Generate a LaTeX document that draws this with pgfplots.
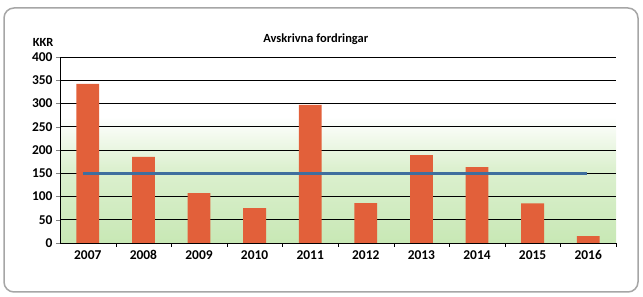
\documentclass[border=0pt]{standalone}
\usepackage{pgfplots}
\pgfplotsset{compat=1.18}
\usepackage{fontspec}
\setmainfont{Carlito}
\definecolor{barorange}{HTML}{E2603A}
\definecolor{avgblue}{HTML}{3F6E9E}
\definecolor{bggreen}{HTML}{C8E8B5}
\definecolor{bggreen2}{HTML}{DCF0CF}
\pgfdeclareverticalshading{bgshade}{100bp}{color(0bp)=(bggreen); color(25bp)=(bggreen); color(45bp)=(bggreen2); color(59bp)=(white); color(100bp)=(white)}
\begin{document}
\begin{tikzpicture}
\path[use as bounding box] (0bp,0bp) rectangle (643bp,297bp);
\draw[gray!70,line width=1.5bp,rounded corners=10bp] (4bp,5bp) rectangle (638bp,289bp);
\begin{axis}[
  at={(60bp,54bp)}, anchor=south west,
  scale only axis, width=556bp, height=186bp,
  axis background/.style={shading=bgshade},
  xmin=-0.5, xmax=9.5, ymin=0, ymax=400,
  ytick={0,50,...,400},
  xtick={0,...,9},
  xticklabels={2007,2008,2009,2010,2011,2012,2013,2014,2015,2016},
  major x tick style={draw=none},
  minor xtick={0.5,1.5,...,8.5,9.5},
  minor x tick style={black},
  minor tick length=4bp,
  ymajorgrids, major grid style={black, line width=0.7bp},
  axis x line*=bottom, axis y line*=left,
  axis line style={black, line width=0.8bp},
  tick align=outside, major tick length=4bp,
  every tick label/.append style={font=\fontsize{13.5}{15}\selectfont\bfseries},
  /pgf/number format/assume math mode=true,
  title={\bfseries Avskrivna fordringar},
  title style={font=\fontsize{12.5}{14}\selectfont, at={(0.46,1)}, anchor=south, yshift=3bp},
  ylabel={\bfseries KKR}, ylabel style={rotate=-90, at={(0,1)}, anchor=south east, xshift=-3bp, yshift=7bp, font=\fontsize{12.5}{14}\selectfont},
  clip=false,
]
\addplot[ybar, bar width=0.41, fill=barorange, draw=none] coordinates {
 (0,342) (1,185) (2,107) (3,75) (4,297) (5,86) (6,189) (7,163) (8,85) (9,15)};
\addplot[avgblue, line width=2.8bp] coordinates {(-0.09,150) (8.97,150)};
\end{axis}
\end{tikzpicture}
\end{document}
